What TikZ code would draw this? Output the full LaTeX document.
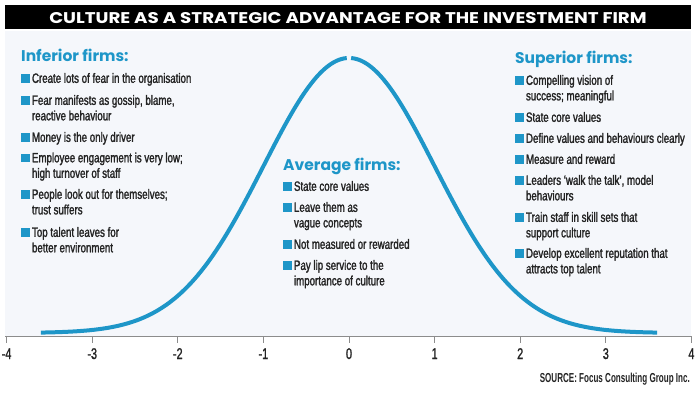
\documentclass[tikz,border=0pt]{standalone}
\usepackage{fontspec}
\setmainfont{Liberation Sans}
\newfontfamily\condf[FakeStretch=0.72, FakeBold=1.6]{Liberation Sans}
\newfontfamily\tickf[FakeStretch=0.7, FakeBold=1.2]{Liberation Sans}
\newfontfamily\srcf[FakeStretch=0.62, UprightFont={* Bold}]{Liberation Sans}
\newfontfamily\headf{Poppins}
\newfontfamily\titlef[FakeStretch=1.18]{Poppins}
\definecolor{brand}{RGB}{30,150,200}
\definecolor{panel}{RGB}{245,247,251}
\definecolor{ink}{RGB}{35,35,35}
\definecolor{axisc}{RGB}{140,140,140}
\tikzset{
  bsq/.style={fill=brand, minimum size=8.8pt, inner sep=0pt, outer sep=0pt, anchor=south west},
  itemtext/.style={anchor=north west, inner sep=0pt, align=left, text=ink,
    font=\condf\fontsize{13.5}{15.5}\selectfont},
  head/.style={anchor=base west, inner sep=0pt, text=brand,
    font=\headf\bfseries\fontsize{15.5}{18}\selectfont},
  ticklab/.style={anchor=base, inner sep=0pt, text=ink, font=\tickf\fontsize{15.5}{18}\selectfont},
  curve/.style={draw=brand, line width=4pt, line cap=butt},
}
\newcommand\bitem[4]{%
  \node[bsq] (#1b) at (#2, #3+4.8) {};
  \node[itemtext] (#1) at (#2+10.8, #3-6.2) {\strut #4};
}
\begin{document}
\begin{tikzpicture}[x=1pt, y=-1pt]
\useasboundingbox (0,0) rectangle (700,394);
\fill[white] (0,0) rectangle (700,394);
% panel
\fill[panel] (5,31) rectangle (691,336);
% title bar
\fill[black] (5,5) rectangle (691,28.5);
\node[anchor=base, inner sep=0pt, text=white, font=\titlef\bfseries\fontsize{15.5}{17}\selectfont] (title) at (348,23) {CULTURE AS A STRATEGIC ADVANTAGE FOR THE INVESTMENT FIRM};
% axis
\draw[axisc, line width=1pt] (5,336) -- (691,336);
\foreach \k in {-4,...,4} {
  \draw[axisc, line width=1pt] ({349+85.6*\k},336) -- ({349+85.6*\k},343);
  \node[ticklab] (t\k) at ({349+85.6*\k},359) {\k};
}
% curve
\draw[curve] plot[domain=-3.6:-0.025, samples=120] ({349+85.6*\x}, {333-275*exp(-0.5*(\x)*(\x))});
\draw[curve] plot[domain=0.025:3.6, samples=120] ({349+85.6*\x}, {333-275*exp(-0.5*(\x)*(\x))});
% headings
\node[head] (inf) at (21,61.7) {Inferior firms:};
\node[head] (avg) at (283,170.5) {Average firms:};
\node[head] (sup) at (515,63.3) {Superior firms:};
% inferior items
\bitem{i1}{21}{78}{Create lots of fear in the organisation}
\bitem{i2}{21}{100}{Fear manifests as gossip, blame,\\reactive behaviour}
\bitem{i3}{21}{137}{Money is the only driver}
\bitem{i4}{21}{157.5}{Employee engagement is very low;\\high turnover of staff}
\bitem{i5}{21}{194}{People look out for themselves;\\trust suffers}
\bitem{i6}{21}{232}{Top talent leaves for\\better environment}
% average items
\bitem{a1}{283}{186}{State core values}
\bitem{a2}{283}{207}{Leave them as\\vague concepts}
\bitem{a3}{283}{244}{Not measured or rewarded}
\bitem{a4}{283}{265}{Pay lip service to the\\importance of culture}
% superior items
\bitem{s1}{515}{80}{Compelling vision of\\success; meaningful}
\bitem{s2}{515}{117}{State core values}
\bitem{s3}{515}{138}{Define values and behaviours clearly}
\bitem{s4}{515}{159}{Measure and reward}
\bitem{s5}{515}{180}{Leaders ‘walk the talk’, model\\behaviours}
\bitem{s6}{515}{217}{Train staff in skill sets that\\support culture}
\bitem{s7}{515}{253}{Develop excellent reputation that\\attracts top talent}
% source
\node[anchor=base east, inner sep=0pt, text=ink, font=\srcf\fontsize{13}{15}\selectfont] (src) at (690,382.5) {SOURCE: Focus Consulting Group Inc.};
\end{tikzpicture}
\end{document}
